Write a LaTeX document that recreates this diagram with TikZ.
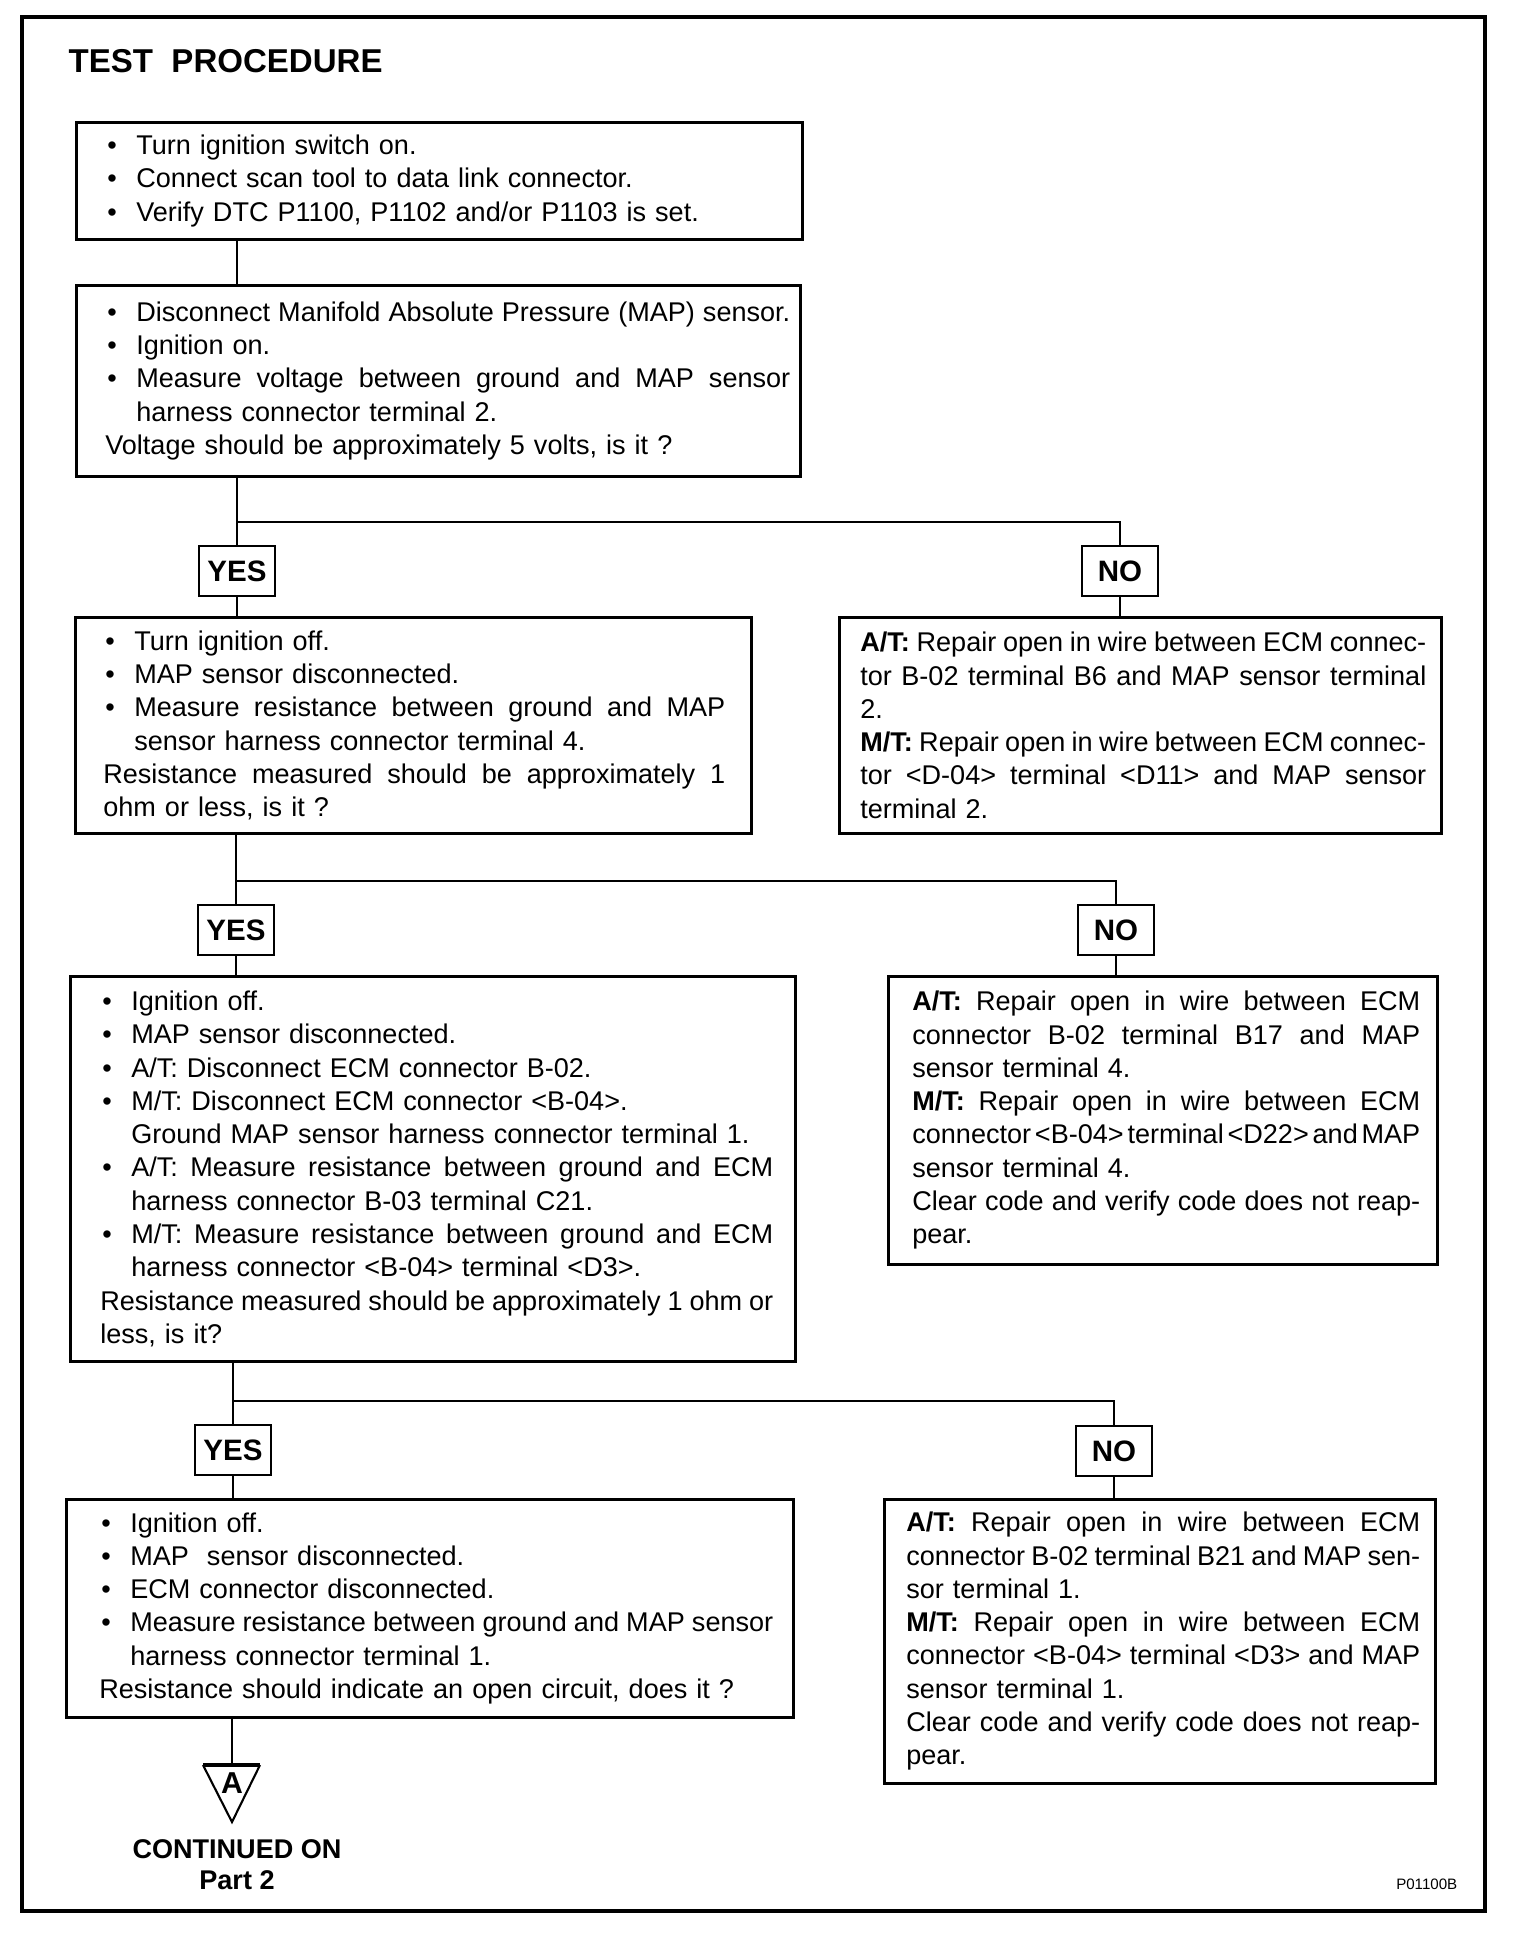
\documentclass[tikz,border=0pt]{standalone}
\usepackage{fontspec}
\setmainfont{Liberation Sans}
\newcommand{\bodyfont}{\fontsize{7.7pt}{9.47pt}\selectfont}
\newcommand{\margins}[2]{\leftskip=#1\relax\rightskip=#2\relax}
\newcommand{\bitem}{\makebox[3.1mm][l]{\hspace{0.2mm}\textbullet}}
\newcommand{\fitline}[2]{\makebox[\dimexpr\hsize-\leftskip-\rightskip-#1\relax][s]{\spaceskip=0.278em plus 1em minus 0.25em\relax #2}}
\newcommand{\jline}[1]{\fitline{0pt}{#1}}
\newcommand{\jbitem}[1]{\bitem\fitline{3.1mm}{#1}}
\newcommand{\under}{\hspace*{3.1mm}}

\begin{document}
\begin{tikzpicture}[
  x=0.1mm, y=-0.1mm,
  stepbox/.style={draw, line width=0.75pt, anchor=north west, inner sep=0pt,
                  align=left, font=\bodyfont},
  answer/.style={draw, line width=0.75pt, minimum width=7.6mm, minimum height=5mm,
                 inner sep=0pt, font=\fontsize{8.4pt}{10pt}\selectfont\bfseries},
  label/.style={inner sep=0pt, font=\fontsize{7.7pt}{9pt}\selectfont\bfseries},
  link/.style={line width=0.7pt}
]
\useasboundingbox (0,0) rectangle (1520,1936);
\draw[line width=1pt] (22,17) rectangle (1485,1911);

\node[anchor=base west, inner sep=0pt, font=\fontsize{9.4pt}{11pt}\selectfont\bfseries] (title) at (68,73) {TEST\ \ PROCEDURE};

\node[stepbox, text width=72.6mm, minimum height=11.7mm] (check1) at (75,121) {\margins{2.9mm}{1mm}%
\bitem Turn ignition switch on.\\
\bitem Connect scan tool to data link connector.\\
\bitem Verify DTC P1100, P1102 and/or P1103 is set.\par};

\node[stepbox, text width=72.4mm, minimum height=19.1mm] (check2) at (75,284) {\margins{2.9mm}{1mm}%
\jbitem{Disconnect Manifold Absolute Pressure (MAP) sensor.}\\
\bitem Ignition on.\\
\jbitem{Measure voltage between ground and MAP sensor}\\
\under harness connector terminal 2.\\
Voltage should be approximately 5 volts, is it ?\par};

\node[stepbox, text width=67.6mm, minimum height=21.6mm] (check3) at (74,616) {\margins{2.8mm}{2.6mm}%
\bitem Turn ignition off.\\
\bitem MAP sensor disconnected.\\
\jbitem{Measure resistance between ground and MAP}\\
\under sensor harness connector terminal 4.\\
\jline{Resistance measured should be approximately 1}\\
ohm or less, is it ?\par};

\node[stepbox, text width=60.2mm, minimum height=21.6mm] (repair1) at (838,616) {\margins{2.1mm}{1.5mm}%
\jline{\textbf{A/T:} Repair open in wire between ECM connec-}\\
\jline{tor B-02 terminal B6 and MAP sensor terminal}\\
2.\\
\jline{\textbf{M/T:} Repair open in wire between ECM connec-}\\
\jline{tor <D-04> terminal <D11> and MAP sensor}\\
terminal 2.\par};

\node[stepbox, text width=72.5mm, minimum height=38.5mm] (check4) at (69,975) {\margins{3mm}{2.2mm}%
\bitem Ignition off.\\
\bitem MAP sensor disconnected.\\
\bitem A/T: Disconnect ECM connector B-02.\\
\bitem M/T: Disconnect ECM connector <B-04>.\\
\under Ground MAP sensor harness connector terminal 1.\\
\jbitem{A/T: Measure resistance between ground and ECM}\\
\under harness connector B-03 terminal C21.\\
\jbitem{M/T: Measure resistance between ground and ECM}\\
\under harness connector <B-04> terminal <D3>.\\
\jline{Resistance measured should be approximately 1 ohm or}\\
less, is it?\par};

\node[stepbox, text width=54.9mm, minimum height=28.8mm] (repair2) at (887,975) {\margins{2.4mm}{1.7mm}%
\jline{\textbf{A/T:} Repair open in wire between ECM}\\
\jline{connector B-02 terminal B17 and MAP}\\
sensor terminal 4.\\
\jline{\textbf{M/T:} Repair open in wire between ECM}\\
\jline{connector <B-04> terminal <D22> and MAP}\\
sensor terminal 4.\\
\jline{Clear code and verify code does not reap-}\\
pear.\par};

\node[stepbox, text width=72.7mm, minimum height=21.8mm] (check5) at (65,1498) {\margins{3.3mm}{2mm}%
\bitem Ignition off.\\
\bitem MAP\ \ sensor disconnected.\\
\bitem ECM connector disconnected.\\
\jbitem{Measure resistance between ground and MAP sensor}\\
\under harness connector terminal 1.\\
Resistance should indicate an open circuit, does it ?\par};

\node[stepbox, text width=55.1mm, minimum height=28.4mm] (repair3) at (883,1498) {\margins{2.2mm}{1.5mm}%
\jline{\textbf{A/T:} Repair open in wire between ECM}\\
\jline{connector B-02 terminal B21 and MAP sen-}\\
sor terminal 1.\\
\jline{\textbf{M/T:} Repair open in wire between ECM}\\
\jline{connector <B-04> terminal <D3> and MAP}\\
sensor terminal 1.\\
\jline{Clear code and verify code does not reap-}\\
pear.\par};

\coordinate (s1) at (237,522);
\coordinate (s2) at (236,881);
\coordinate (s3) at (233,1401);
\node[answer] (yes1) at (237,571) {YES};
\node[answer] (no1) at (1120,571) {NO};
\node[answer] (yes2) at (236,930) {YES};
\node[answer] (no2) at (1116,930) {NO};
\node[answer] (yes3) at (233,1450) {YES};
\node[answer] (no3) at (1114,1451) {NO};

\draw[link] (check1.south -| s1) -- (check2.north -| s1);
\foreach \i/\k/\n in {1/2/3, 2/3/4, 3/4/5} {
  \draw[link] (check\k.south -| s\i) -- (yes\i);
  \draw[link] (s\i) -| (no\i);
  \draw[link] (yes\i) -- (check\n.north -| yes\i);
  \draw[link] (no\i) -- (repair\i.north -| no\i);
}

\coordinate (tl) at (203,1765);
\coordinate (tr) at (260,1765);
\coordinate (tip) at (232,1822);
\node[font=\fontsize{8.6pt}{10pt}\selectfont\bfseries] (partA) at (232,1783) {A};
\draw[line width=0.6pt] (check5.south -| tip) -- (tip |- tl);
\draw[line width=1.1pt] (tl) -- (tr);
\draw[line width=0.6pt] (tr) -- (tip) -- (tl);

\node[label, anchor=base] (contd) at (237,1858) {CONTINUED ON};
\node[label, anchor=base] (part2) at (237,1889) {Part 2};
\node[anchor=base east, inner sep=0pt, font=\fontsize{4.3pt}{5pt}\selectfont] (figno) at (1458,1889) {P01100B};
\end{tikzpicture}
\end{document}
